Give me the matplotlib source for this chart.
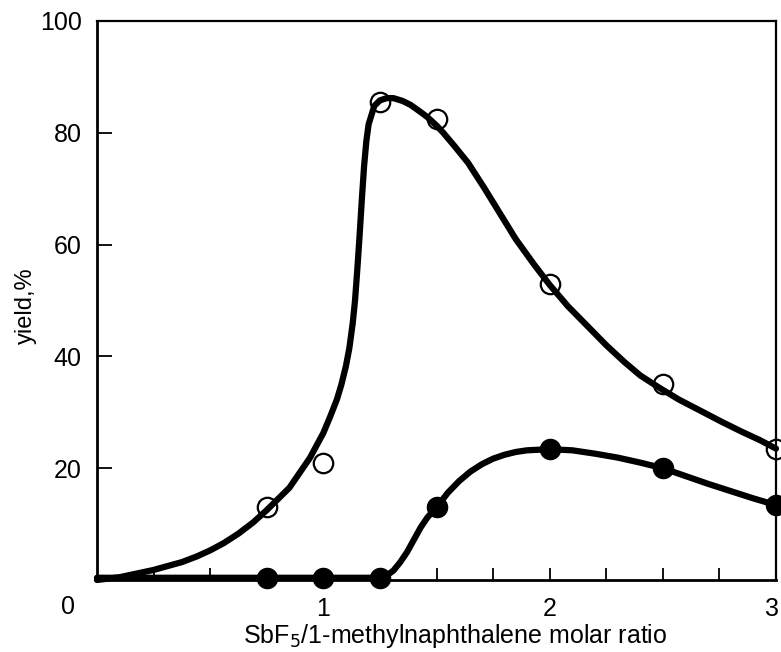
import matplotlib.pyplot as plt
import matplotlib.transforms as mtransforms

plt.rcParams["font.family"] = ["Liberation Sans", "DejaVu Sans"]

# measured points
ratio = [0.75, 1.0, 1.25, 1.5, 2.0, 2.5, 3.0]
yield_open = [13, 21, 85.5, 82.5, 53, 35, 23.5]
yield_filled = [0.4, 0.4, 0.4, 13, 23.5, 20, 13.5]

# hand-drawn trend curves
curve_open_x = [0, 0.1, 0.25, 0.375, 0.44, 0.5, 0.56, 0.625, 0.69, 0.75, 0.85, 0.94,
                1.0, 1.03, 1.06, 1.08, 1.1, 1.115, 1.13, 1.14, 1.15, 1.16, 1.17,
                1.18, 1.19, 1.2, 1.225, 1.25, 1.28, 1.31, 1.35, 1.385, 1.42, 1.46,
                1.5, 1.53, 1.58, 1.64, 1.71, 1.78, 1.85, 1.93, 2.0, 2.08, 2.17,
                2.25, 2.33, 2.4, 2.48, 2.57, 2.67, 2.76, 2.85, 2.93, 3.0]
curve_open_y = [0, 0.5, 1.8, 3.2, 4.2, 5.3, 6.6, 8.3, 10.3, 12.5, 16.5, 21.8,
                26.3, 29.2, 32.3, 35, 38.3, 41.5, 46, 50, 55.5, 61.5, 68,
                74, 78.5, 81.5, 84.8, 85.8, 86.2, 86.2, 85.7, 85, 84, 82.8,
                81.3, 80, 77.6, 74.6, 70.2, 65.6, 61, 56.5, 52.8, 49, 45.3,
                42, 39, 36.6, 34.5, 32.3, 30.2, 28.3, 26.5, 25, 23.5]

curve_filled_x = [0, 0.75, 1.0, 1.25, 1.28, 1.31, 1.34, 1.37, 1.4, 1.43, 1.46, 1.5,
                  1.55, 1.6, 1.65, 1.7, 1.75, 1.8, 1.85, 1.9, 2.0, 2.1, 2.2, 2.3,
                  2.4, 2.5, 2.6, 2.7, 2.8, 2.9, 3.0]
curve_filled_y = [0.4, 0.4, 0.4, 0.4, 0.8, 1.7, 3.2, 5.0, 7.2, 9.4, 11.2, 13,
                  15.6, 17.7, 19.4, 20.7, 21.7, 22.4, 22.9, 23.2, 23.4, 23.2, 22.6, 21.9,
                  21, 20, 18.6, 17.2, 15.9, 14.6, 13.4]

yticks = [20, 40, 60, 80, 100]
xticks_major = [1, 2, 3]
xticks_minor = [0.25, 0.5, 0.75, 1.25, 1.5, 1.75, 2.25, 2.5, 2.75]

fig = plt.figure(figsize=(7.81, 6.52), dpi=100)
ax = fig.add_axes([97 / 781, 1 - 580 / 652, (776 - 97) / 781, (580 - 21) / 652])

ax.plot(curve_open_x, curve_open_y, color="black", lw=4.5,
        solid_joinstyle="round", solid_capstyle="round", clip_on=False, zorder=3)
ax.plot(curve_filled_x, curve_filled_y, color="black", lw=4.5,
        solid_joinstyle="round", solid_capstyle="round", clip_on=False, zorder=3)

ax.plot(ratio, yield_open, "o", ms=14, mfc="none", mec="black", mew=1.6,
        clip_on=False, zorder=4)
ax.plot(ratio, yield_filled, "o", ms=14.5, mfc="black", mec="black",
        clip_on=False, zorder=4)

ax.set_xlim(0, 3)
ax.set_ylim(0, 100)
ax.set_yticks(yticks)
ax.set_xticks(xticks_major)
ax.set_xticks(xticks_minor, minor=True)

ax.tick_params(axis="y", direction="in", length=11, width=1.3, labelsize=18, pad=11)
ax.tick_params(axis="x", which="both", direction="in", length=9, width=1.3,
               labelsize=18, pad=12)

# last x label sits at the figure edge in the original
lbl3 = ax.get_xticklabels()[-1]
lbl3.set_transform(lbl3.get_transform() + mtransforms.ScaledTranslation(-4 / 100, 0, fig.dpi_scale_trans))

for side in ["left", "bottom"]:
    ax.spines[side].set_linewidth(2.0)
for side in ["top", "right"]:
    ax.spines[side].set_linewidth(1.6)

fig.text(68 / 781, 1 - 607 / 652, "0", fontsize=18, ha="center", va="center")

ax.set_xlabel(r"SbF$_5$/1-methylnaphthalene molar ratio", fontsize=18, labelpad=1)
ax.xaxis.set_label_coords(0.527, -0.075)
ax.set_ylabel("yield,%", fontsize=17)
ax.yaxis.set_label_coords(-0.088, 0.49)

fig.savefig("out.png", dpi=100)
